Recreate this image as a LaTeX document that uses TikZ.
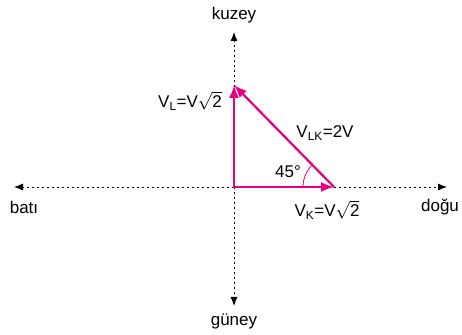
\documentclass[tikz,border=0pt]{standalone}
\usepackage{fontspec}
\setmainfont{Liberation Sans}
\usetikzlibrary{arrows.meta}
\definecolor{vekpink}{RGB}{230,0,126}

\begin{document}
\begin{tikzpicture}[x=1pt,y=1pt,>=Latex,
  axisarrow/.style={dash pattern=on 2pt off 3pt,line width=0.9pt,-{Latex[length=9pt,width=7pt]}},
  vecarrow/.style={vekpink,line width=2.2pt,-{Latex[length=13pt,width=10pt]}},
  lbl/.style={font=\fontsize{17}{20}\selectfont,inner sep=0pt}]
  \useasboundingbox (0,0) rectangle (462,334);
  % eksenler
  \coordinate (O) at (234,147);
  \coordinate (N) at (234,302);
  \coordinate (S) at (234,28);
  \coordinate (W) at (14,147);
  \coordinate (E) at (447,147);
  \draw[axisarrow] (O) -- (N);
  \draw[axisarrow] (O) -- (S);
  \draw[axisarrow] (O) -- (W);
  \draw[axisarrow] (O) -- (E);
  \node[lbl] (kuzey) at (234,319) {kuzey};
  \node[lbl] (guney) at (234,13) {güney};
  \node[lbl] (bati) at (24,127) {batı};
  \node[lbl] (dogu) at (440,127) {doğu};
  % vektorler
  \coordinate (L) at (234,249);
  \coordinate (K) at (334,147);
  \draw[vecarrow,shorten <=-1pt] (O) -- (L);
  \draw[vecarrow,shorten <=-1pt] (O) -- (K);
  \draw[vecarrow] (K) -- (L);
  \draw[vekpink,line width=0.8pt] (K) ++(180:31) arc[start angle=180,end angle=135,radius=31];
  \node[lbl] (VL) at (190,233) {V\textsubscript{L}=V$\sqrt{\mbox{2}}$};
  \node[lbl] (VLK) at (325,201) {V\textsubscript{LK}=2V};
  \node[lbl] (aci) at (288,162) {45°};
  \node[lbl] (VK) at (327,124) {V\textsubscript{K}=V$\sqrt{\mbox{2}}$};
\end{tikzpicture}
\end{document}
